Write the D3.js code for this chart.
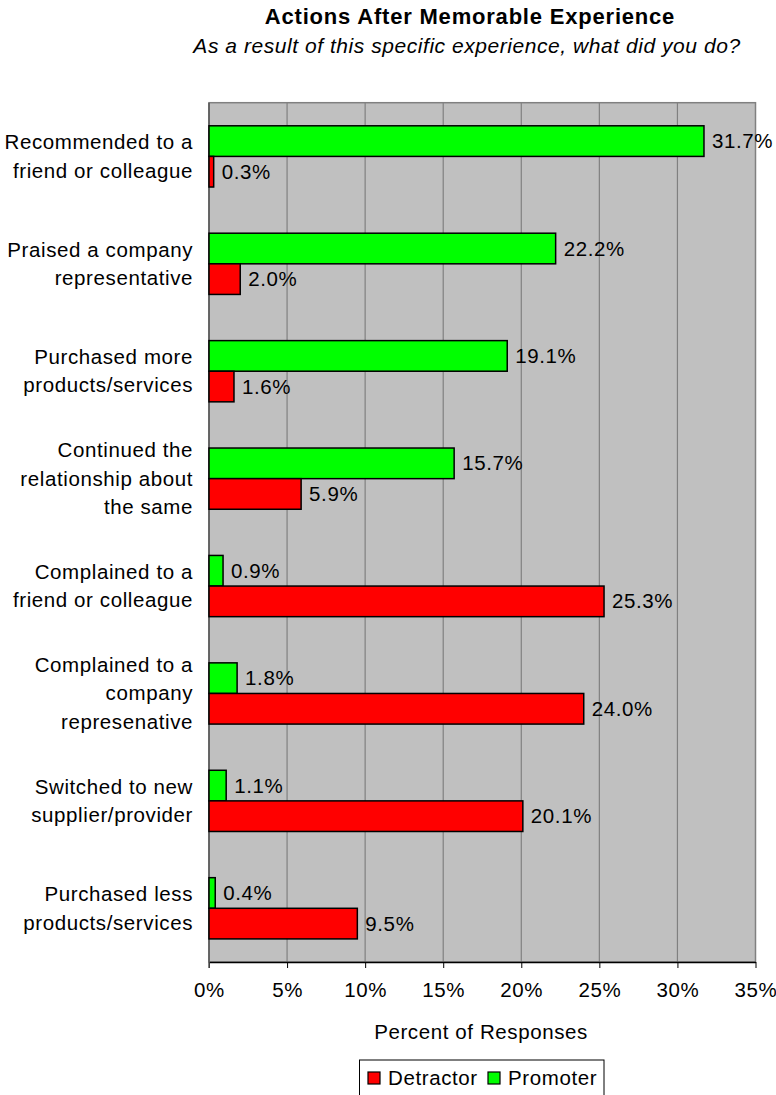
<!DOCTYPE html>
<html>
<head>
<meta charset="utf-8">
<script src="https://cdn.jsdelivr.net/npm/d3@7"></script>
<style>
body{margin:0;background:#fff;}
text{font-family:"Liberation Sans",Arial,sans-serif;fill:#000;letter-spacing:0.6px;}
</style>
</head>
<body>
<div id="chart"></div>
<script>
// data
const categories = [
	["Recommended to a", "friend or colleague"],
	["Praised a company", "representative"],
	["Purchased more", "products/services"],
	["Continued the", "relationship about", "the same"],
	["Complained to a", "friend or colleague"],
	["Complained to a", "company", "represenative"],
	["Switched to new", "supplier/provider"],
	["Purchased less", "products/services"]
];
const promoter = [31.7, 22.2, 19.1, 15.7, 0.9, 1.8, 1.1, 0.4];
const detractor = [0.3, 2.0, 1.6, 5.9, 25.3, 24.0, 20.1, 9.5];
const xTicks = [0, 5, 10, 15, 20, 25, 30, 35];

const W = 776, H = 1095;
const L = 209, R = 755.5, T = 102.7, B = 962;
const FS = "20.5px";

const svg = d3.select("#chart").append("svg")
	.attr("width", W).attr("height", H);

svg.append("text").attr("x", 470).attr("y", 24)
	.attr("text-anchor", "middle").style("font-size", "22px").style("font-weight", "bold")
	.style("letter-spacing", "0.8px")
	.text("Actions After Memorable Experience");
svg.append("text").attr("x", 467).attr("y", 53)
	.attr("text-anchor", "middle").style("font-size", "21px").style("font-style", "italic")
	.style("letter-spacing", "0.55px")
	.text("As a result of this specific experience, what did you do?");

let x = d3.scaleLinear().domain([0, 35]).range([L, R]);
let y = d3.scaleBand().domain(d3.range(categories.length)).range([T, B]).paddingInner(0.43).paddingOuter(0.215);

// plot area
svg.append("rect").attr("x", L).attr("y", T).attr("width", R - L).attr("height", B - T)
	.attr("fill", "#c0c0c0").attr("stroke", "#808080").attr("stroke-width", 1.5);

svg.append("g").selectAll("line").data(xTicks.slice(1, -1)).enter().append("line")
	.attr("x1", d => x(d)).attr("x2", d => x(d)).attr("y1", T).attr("y2", B)
	.attr("stroke", "#808080").attr("stroke-width", 1.2);

// bottom axis
let ax = svg.append("g").attr("transform", "translate(0," + B + ")")
	.call(d3.axisBottom(x).tickValues(xTicks).tickFormat(d => d + "%").tickSizeInner(6).tickSizeOuter(0).tickPadding(14));
ax.select(".domain").attr("stroke", "#000").attr("stroke-width", 1.5);
ax.selectAll(".tick line").attr("stroke", "#000");
ax.selectAll("text").style("font-size", FS).attr("font-family", null);

// left axis line
svg.append("line").attr("x1", L).attr("x2", L).attr("y1", T).attr("y2", B + 6)
	.attr("stroke", "#555").attr("stroke-width", 1.5);

let bh = y.bandwidth() / 2;
let g = svg.append("g");

// green on top, red below
g.selectAll(".prom").data(promoter).enter().append("rect")
	.attr("x", x(0)).attr("y", (d, i) => y(i))
	.attr("width", d => x(d) - x(0)).attr("height", bh)
	.attr("fill", "#00ff00").attr("stroke", "#000").attr("stroke-width", 1.5);
g.selectAll(".det").data(detractor).enter().append("rect")
	.attr("x", x(0)).attr("y", (d, i) => y(i) + bh)
	.attr("width", d => x(d) - x(0)).attr("height", bh)
	.attr("fill", "#ff0000").attr("stroke", "#000").attr("stroke-width", 1.5);

g.selectAll(".pl").data(promoter).enter().append("text")
	.attr("x", d => x(d) + 8).attr("y", (d, i) => y(i) + bh / 2 + 7)
	.style("font-size", FS).text(d => d.toFixed(1) + "%");
g.selectAll(".dl").data(detractor).enter().append("text")
	.attr("x", d => x(d) + 8).attr("y", (d, i) => y(i) + bh * 1.5 + 7)
	.style("font-size", FS).text(d => d.toFixed(1) + "%");

// category labels
categories.forEach((lines, i) => {
	let cy = y(i) + y.bandwidth() / 2;
	let t = svg.append("text").attr("text-anchor", "end").style("font-size", FS);
	lines.forEach((s, k) => {
		t.append("tspan").attr("x", 193)
			.attr("y", cy + (k - (lines.length - 1) / 2) * 28.5 + 7)
			.text(s);
	});
});

svg.append("text").attr("x", 481).attr("y", 1039)
	.attr("text-anchor", "middle").style("font-size", FS)
	.text("Percent of Responses");

// legend
let lg = svg.append("g");
lg.append("rect").attr("x", 359.5).attr("y", 1060).attr("width", 244.5).attr("height", 40)
	.attr("fill", "#fff").attr("stroke", "#000").attr("stroke-width", 1);
const legendItems = [["Detractor", "#ff0000", 368], ["Promoter", "#00ff00", 488]];
legendItems.forEach(it => {
	lg.append("rect").attr("x", it[2]).attr("y", 1072).attr("width", 12).attr("height", 12)
		.attr("fill", it[1]).attr("stroke", "#000").attr("stroke-width", 1.2);
	lg.append("text").attr("x", it[2] + 20).attr("y", 1085).style("font-size", FS).text(it[0]);
});
</script>
</body>
</html>
